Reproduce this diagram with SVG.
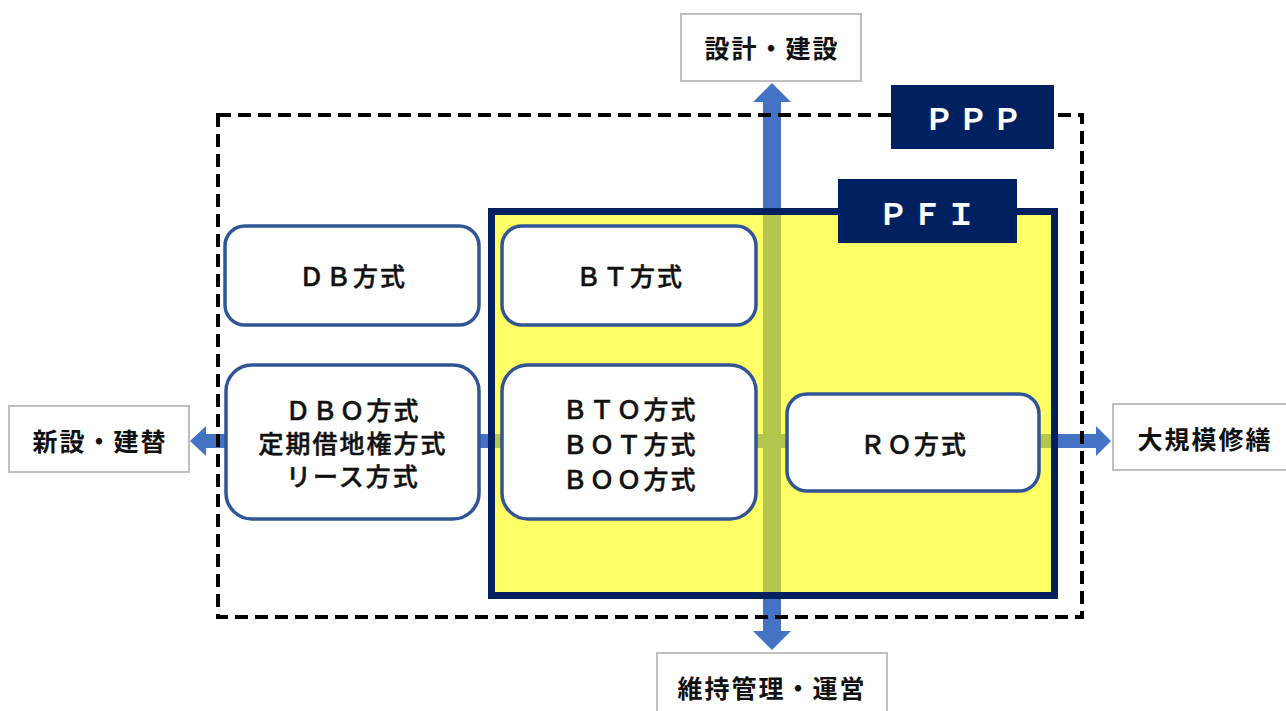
<svg xmlns="http://www.w3.org/2000/svg" width="1286" height="711" viewBox="0 0 1286 711">
  <style>
    .lbl { fill: #ffffff; stroke: #bfbfbf; stroke-width: 2; }
    .lbltxt { font-family: "Noto Sans CJK JP", "Noto Sans", sans-serif; font-size: 25px; font-weight: bold; fill: #111111; text-anchor: middle; dominant-baseline: central; letter-spacing: 2px; }
    .node { fill: #ffffff; stroke: #2f5597; stroke-width: 3.5; }
    .ntxt { font-family: "Noto Sans CJK JP", "Noto Sans", sans-serif; font-size: 25px; font-weight: 500; fill: #111111; text-anchor: middle; dominant-baseline: central; letter-spacing: 2px; stroke: #111111; stroke-width: 0.5; }
    .tag { fill: #002060; }
    .tagtxt { font-family: "Noto Sans CJK JP", "Noto Sans", sans-serif; font-size: 30px; font-weight: bold; fill: #ffffff; text-anchor: middle; dominant-baseline: central; letter-spacing: 4px; }
    .arrow { fill: #4472c4; }
  </style>
  <rect width="1286" height="711" fill="#ffffff"/>

  <g id="connectors">
    <polygon class="arrow" points="772,83 791,102 781,102 781,631 791,631 772,650 753,631 763,631 763,102 753,102"/>
    <polygon class="arrow" points="190,441 206,426 206,434 1096,434 1096,426 1111,441 1096,456 1096,448 206,448 206,456"/>
  </g>

  <g id="pfi-area">
    <rect x="491.5" y="211.5" width="563" height="384" fill="#ffff00" fill-opacity="0.6"/>
    <rect x="491.5" y="211.5" width="563" height="384" fill="none" stroke="#002060" stroke-width="7"/>
  </g>

  <g id="ppp-area">
    <rect x="218" y="115" width="864" height="502" fill="none" stroke="#000000" stroke-width="4" stroke-dasharray="13 7"/>
  </g>

  <g id="ppp-tag">
    <rect class="tag" x="891" y="85" width="163" height="64"/>
    <text class="tagtxt" x="975" y="117">ＰＰＰ</text>
  </g>

  <g id="pfi-tag">
    <rect class="tag" x="838" y="179" width="179" height="64"/>
    <text class="tagtxt" x="929" y="212">ＰＦＩ</text>
  </g>

  <g id="design-build">
    <rect class="lbl" x="681" y="14" width="180" height="67"/>
    <text class="lbltxt" x="772" y="47">設計・建設</text>
  </g>

  <g id="new-build">
    <rect class="lbl" x="9" y="406" width="180" height="66"/>
    <text class="lbltxt" x="100" y="440">新設・建替</text>
  </g>

  <g id="major-repair">
    <rect class="lbl" x="1113" y="404" width="190" height="66"/>
    <text class="lbltxt" x="1205" y="438">大規模修繕</text>
  </g>

  <g id="maintenance">
    <rect class="lbl" x="657" y="653" width="230" height="80"/>
    <text class="lbltxt" x="772" y="687">維持管理・運営</text>
  </g>

  <g id="db">
    <rect class="node" x="225" y="226" width="254" height="99" rx="20"/>
    <text class="ntxt" x="353" y="275">ＤＢ方式</text>
  </g>

  <g id="bt">
    <rect class="node" x="502" y="226" width="254" height="99" rx="20"/>
    <text class="ntxt" x="630" y="275">ＢＴ方式</text>
  </g>

  <g id="dbo">
    <rect class="node" x="226" y="365" width="253" height="154" rx="26"/>
    <text class="ntxt" x="353" y="409">ＤＢＯ方式</text>
    <text class="ntxt" x="353" y="442">定期借地権方式</text>
    <text class="ntxt" x="353" y="475">リース方式</text>
  </g>

  <g id="bto">
    <rect class="node" x="502" y="365" width="254" height="154" rx="26"/>
    <text class="ntxt" x="630" y="408">ＢＴＯ方式</text>
    <text class="ntxt" x="630" y="443">ＢＯＴ方式</text>
    <text class="ntxt" x="630" y="478">ＢＯＯ方式</text>
  </g>

  <g id="ro">
    <rect class="node" x="787" y="394" width="252" height="97" rx="20"/>
    <text class="ntxt" x="914" y="443">ＲＯ方式</text>
  </g>
</svg>
